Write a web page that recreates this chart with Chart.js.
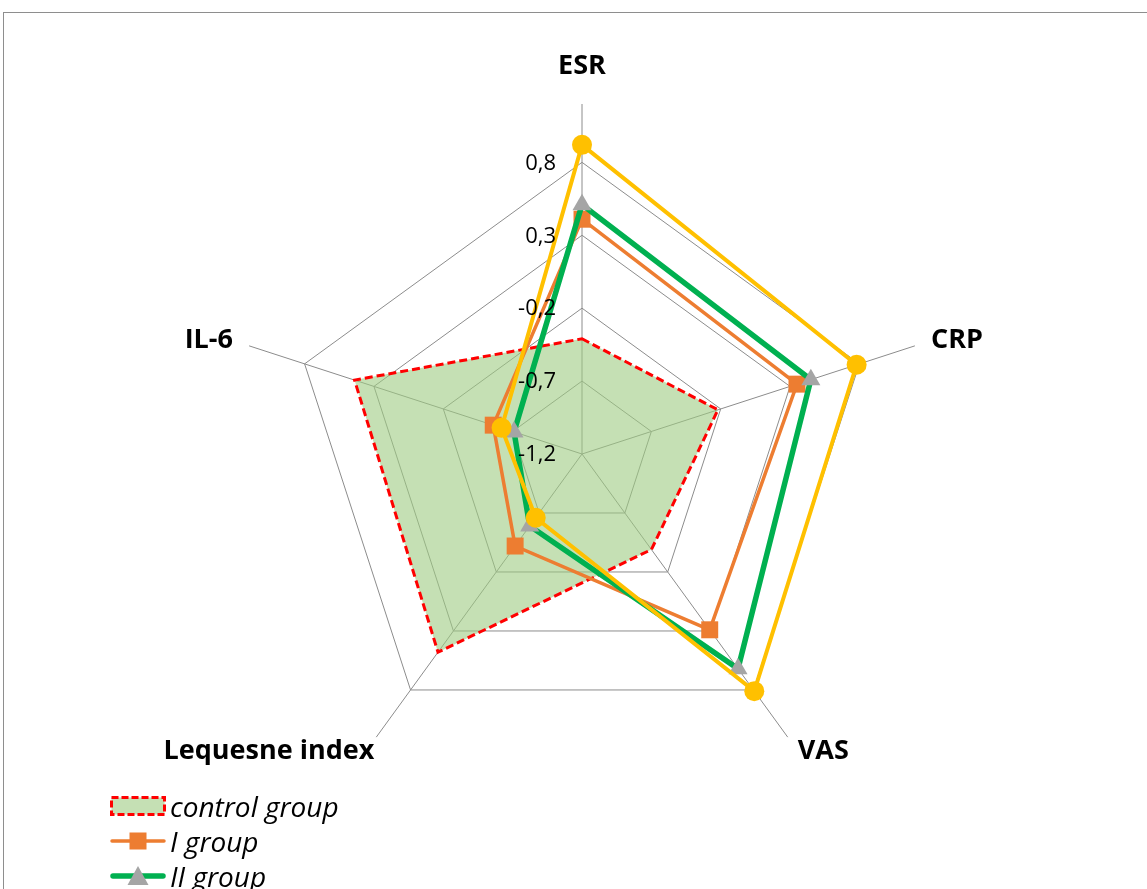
<!DOCTYPE html>
<html lang="en">
<head>
  <meta charset="UTF-8" />
  <title>Radar chart</title>
  <script src="https://cdn.jsdelivr.net/npm/chart.js"></script>
  <style>
    html, body {
      margin: 0;
      padding: 0;
      background: #fff;
      width: 1147px;
      height: 889px;
      overflow: hidden;
    }
    .frame {
      position: absolute;
      left: 3px;
      top: 12px;
      width: 1200px;
      height: 1000px;
      border: 1px solid #8e8e8e;
    }
    #chart { position: absolute; left: 0; top: 0; }
    .legend {
      position: absolute;
      left: 110px;
      top: 0;
      font-family: 'Open Sans', sans-serif;
      font-style: italic;
      font-size: 28px;
      color: #000;
    }
    .legend .item {
      position: absolute;
      left: 0;
      height: 36px;
      display: flex;
      align-items: center;
      white-space: nowrap;
    }
    .legend svg { width: 56px; height: 24px; margin-right: 4px; flex: none; }
  </style>
</head>
<body>
  <div class="frame"></div>
  <canvas id="chart" width="1147" height="889"></canvas>
  <div class="legend" id="legend"></div>

  <script>
    // values
    const axisLabels = ['ESR', 'CRP', 'VAS', 'Lequesne index', 'IL-6'];
    const tickValues = [-1.2, -0.7, -0.2, 0.3, 0.8];
    const scaleMin = -1.2;
    const scaleMax = 1.2;
    const seriesNames = ['control group', 'I group', 'II group', 'III group'];
    const controlGroup = [-0.41, -0.22, -0.39, 0.48, 0.44];
    const group1 = [0.41, 0.35, 0.29, -0.42, -0.56];
    const group2 = [0.51, 0.45, 0.62, -0.59, -0.71];
    const group3 = [0.92, 0.78, 0.81, -0.66, -0.62];

    const fmt = v => v.toFixed(1).replace('.', ',');

    // tick numbers left of the ESR axis and bold category names, drawn over the series
    const radarText = {
      id: 'radarText',
      afterDatasetsDraw(chart) {
        const s = chart.scales.r;
        const ctx = chart.ctx;
        ctx.save();
        ctx.font = '22px "Open Sans"';
        ctx.fillStyle = '#000';
        ctx.textAlign = 'right';
        ctx.textBaseline = 'middle';
        s.ticks.forEach(t => {
          const p = s.getPointPositionForValue(0, t.value);
          ctx.fillText(fmt(t.value), p.x - 26, p.y + 1);
        });

        ctx.font = 'bold 27px "Open Sans"';
        axisLabels.forEach((txt, i) => {
          const p = s.getPointPosition(i, s.drawingArea + (i === 0 ? 38 : 17));
          const dx = p.x - s.xCenter;
          ctx.textAlign = Math.abs(dx) < 1 ? 'center' : (dx > 0 ? 'left' : 'right');
          ctx.fillText(txt, p.x + (dx < -1 && p.y > s.yCenter ? 8 : 0), p.y);
        });
        ctx.restore();
      }
    };

    const chart = new Chart(document.getElementById('chart'), {
      type: 'radar',
      data: {
        labels: axisLabels,
        datasets: [
          {
            label: seriesNames[0],
            data: controlGroup,
            borderColor: '#FF0000',
            borderWidth: 3,
            borderDash: [8, 4],
            backgroundColor: 'rgba(158,203,130,0.6)',
            fill: 'start',
            pointRadius: 0,
            order: 4
          },
          {
            label: seriesNames[1],
            data: group1,
            borderColor: '#ED7D31',
            borderWidth: 3.5,
            fill: false,
            pointStyle: 'rect',
            pointRadius: 12,
            pointBackgroundColor: '#ED7D31',
            pointBorderColor: '#ED7D31',
            pointBorderWidth: 0,
            order: 3
          },
          {
            label: seriesNames[2],
            data: group2,
            borderColor: '#00B050',
            borderWidth: 5.5,
            fill: false,
            pointStyle: 'triangle',
            pointRadius: 11,
            pointBackgroundColor: '#A5A5A5',
            pointBorderColor: '#A5A5A5',
            pointBorderWidth: 0,
            order: 2
          },
          {
            label: seriesNames[3],
            data: group3,
            borderColor: '#FFC000',
            borderWidth: 4,
            fill: false,
            pointStyle: 'circle',
            pointRadius: 10,
            pointBackgroundColor: '#FFC000',
            pointBorderColor: '#FFC000',
            pointBorderWidth: 0,
            order: 1
          }
        ]
      },
      options: {
        responsive: false,
        animation: false,
        layout: { padding: { left: 232, right: 215, top: 104, bottom: 85 } },
        elements: { line: { tension: 0, borderJoinStyle: 'miter' } },
        plugins: {
          legend: { display: false },
          tooltip: { enabled: false }
        },
        scales: {
          r: {
            min: scaleMin,
            max: scaleMax,
            afterBuildTicks: s => { s.ticks = tickValues.map(v => ({ value: v })); },
            ticks: { display: false },
            pointLabels: { display: false },
            grid: { color: '#8c8c8c', lineWidth: 1 },
            angleLines: { color: '#8c8c8c', lineWidth: 1 }
          }
        }
      },
      plugins: [radarText]
    });

    // legend in the Excel style, one row per series
    const legendIcons = [
      '<rect x="1.5" y="3.5" width="53" height="17" fill="#C5E0B4" stroke="#FF0000" stroke-width="3" stroke-dasharray="7 3"/>',
      '<line x1="2" y1="12" x2="54" y2="12" stroke="#ED7D31" stroke-width="3.5" stroke-linecap="round"/><rect x="19.5" y="3.5" width="17" height="17" fill="#ED7D31"/>',
      '<line x1="3" y1="12" x2="53" y2="12" stroke="#00B050" stroke-width="5.5" stroke-linecap="round"/><polygon points="28,2 38.5,21 17.5,21" fill="#A5A5A5"/>',
      '<line x1="2" y1="12" x2="54" y2="12" stroke="#FFC000" stroke-width="4" stroke-linecap="round"/><circle cx="28" cy="12" r="9" fill="#FFC000"/>'
    ];
    const legendRows = [806, 841, 876, 911];
    const legend = document.getElementById('legend');
    seriesNames.forEach((name, i) => {
      const row = document.createElement('div');
      row.className = 'item';
      row.style.top = (legendRows[i] - 18) + 'px';
      row.innerHTML = '<svg viewBox="0 0 56 24">' + legendIcons[i] + '</svg><span>' + name + '</span>';
      legend.appendChild(row);
    });
  </script>
</body>
</html>
